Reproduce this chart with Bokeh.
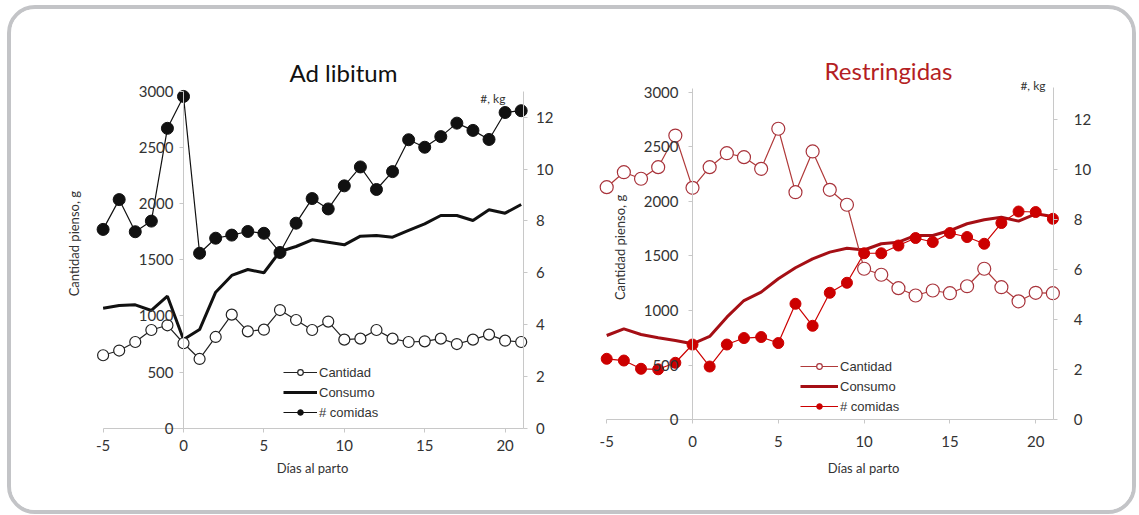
import math
from bokeh.plotting import figure
from bokeh.models import Range1d, LinearAxis, FixedTicker, Label
from bokeh.layouts import row
from bokeh.embed import file_html
from bokeh.resources import INLINE

# ---------------- data ----------------
dias = list(range(-5, 22))

ad_cantidad = [650, 692, 768, 875, 917, 757, 617, 813, 1012, 863, 878, 1053, 964, 875,
               950, 789, 798, 875, 798, 768, 774, 798, 750, 789, 834, 780, 768]
ad_consumo = [1069, 1093, 1099, 1049, 1176, 790, 879, 1212, 1361, 1414, 1385, 1575, 1619,
              1679, 1657, 1634, 1711, 1717, 1702, 1762, 1821, 1895, 1895, 1851, 1946, 1916, 1993]
ad_comidas = [7.67, 8.82, 7.58, 7.99, 11.57, 12.80, 6.75, 7.33, 7.45, 7.59, 7.52, 6.78, 7.91,
              8.86, 8.46, 9.35, 10.08, 9.21, 9.90, 11.13, 10.84, 11.25, 11.77, 11.49, 11.14,
              12.18, 12.25]

res_cantidad = [2130, 2267, 2207, 2313, 2603, 2124, 2313, 2441, 2405, 2298, 2665, 2084, 2457,
                2106, 1969, 1383, 1328, 1205, 1138, 1184, 1159, 1223, 1383, 1214, 1085, 1163, 1159]
res_consumo = [772, 833, 781, 751, 726, 696, 763, 940, 1092, 1169, 1291, 1392, 1474, 1535,
               1571, 1555, 1612, 1626, 1688, 1688, 1733, 1795, 1831, 1855, 1819, 1886, 1862]
res_comidas = [2.44, 2.37, 2.04, 2.02, 2.28, 3.01, 2.13, 3.01, 3.27, 3.31, 3.07, 4.64, 3.76,
               5.08, 5.48, 6.66, 6.66, 6.97, 7.27, 7.11, 7.47, 7.31, 7.04, 7.87, 8.33, 8.31, 8.04]

g_ticks = [0, 500, 1000, 1500, 2000, 2500, 3000]
n_ticks = [0, 2, 4, 6, 8, 10, 12]
x_ticks = [-5, 0, 5, 10, 15, 20]

TICK_FONT = "Lato"
AXIS_GRAY = "#c8c8c8"
TEXT = "#333333"
H = 501


def style_axis(ax, standoff):
    ax.axis_line_color = AXIS_GRAY
    ax.major_tick_line_color = AXIS_GRAY
    ax.major_tick_out = 4
    ax.major_tick_in = 0
    ax.minor_tick_line_color = None
    ax.major_label_standoff = standoff
    ax.major_label_text_font = TICK_FONT
    ax.major_label_text_font_size = "15px"
    ax.major_label_text_color = TEXT


def panel(title, title_color, cantidad, consumo, comidas, c_cant_line, c_cant_mark,
          c_cons, c_com, width, xr, gr, nr, x_end, g_top, n_top,
          x_std, r_std, l_std, title_pos, ylab_pos, kg_pos, xlab_pos,
          leg_loc, leg_gw, size_open, size_fill):
    p = figure(width=width, height=H, output_backend="svg", toolbar_location=None,
               x_range=Range1d(*xr), y_range=Range1d(*gr),
               min_border=0, outline_line_color=None,
               background_fill_color="white", border_fill_color="white")
    p.grid.visible = False

    # left axis (crosses at x = 0)
    ya = p.left[0]
    ya.ticker = FixedTicker(ticks=g_ticks)
    ya.fixed_location = 0
    ya.bounds = (0, g_top)
    style_axis(ya, l_std)

    # x axis (at y = 0)
    xa = p.below[0]
    xa.ticker = FixedTicker(ticks=x_ticks)
    xa.fixed_location = 0
    xa.bounds = (-5, x_end)
    xa.major_label_overrides = {-5: "-5"}
    style_axis(xa, x_std)

    # right axis
    p.extra_y_ranges = {"n": Range1d(*nr)}
    ra = LinearAxis(y_range_name="n", ticker=FixedTicker(ticks=n_ticks))
    ra.fixed_location = x_end
    ra.bounds = (0, n_top)
    style_axis(ra, r_std)
    p.add_layout(ra, "right")

    # series
    p.line(dias, consumo, line_color=c_cons, line_width=3, legend_label="Consumo")
    p.line(dias, cantidad, line_color=c_cant_line, line_width=1.2, legend_label="Cantidad")
    p.scatter(dias, cantidad, size=size_open, fill_color="white", line_color=c_cant_mark,
              line_width=1.2, legend_label="Cantidad")
    p.line(dias, comidas, y_range_name="n", line_color=c_com, line_width=1.2,
           legend_label="# comidas")
    p.scatter(dias, comidas, y_range_name="n", size=size_fill, fill_color=c_com,
              line_color=c_com, legend_label="# comidas")

    # texts
    p.add_layout(Label(x=title_pos[0], y=title_pos[1], text=title, text_align="center",
                       text_baseline="middle", text_font="Lato", text_font_size="24px",
                       text_color=title_color))
    p.add_layout(Label(x=ylab_pos[0], y=ylab_pos[1], angle=math.pi / 2,
                       text="Cantidad pienso, g", text_align="center",
                       text_baseline="middle", text_font="Lato",
                       text_font_size="13px", text_color=TEXT))
    p.add_layout(Label(x=kg_pos[0], y=kg_pos[1], y_range_name="n",
                       text="#, kg", text_align="right", text_baseline="middle",
                       text_font="Lato", text_font_size="12px", text_color=TEXT))
    p.add_layout(Label(x=xlab_pos[0], y=xlab_pos[1], text="Días al parto",
                       text_align="center", text_baseline="middle", text_font="Lato",
                       text_font_size="13px", text_color=TEXT))

    leg = p.legend[0]
    leg.items = [leg.items[1], leg.items[0], leg.items[2]]
    leg.location = leg_loc
    leg.label_text_font = "Liberation Sans"
    leg.label_text_font_size = "13px"
    leg.label_text_color = TEXT
    leg.glyph_width = leg_gw
    leg.glyph_height = 14
    leg.label_height = 20
    leg.label_standoff = 2
    leg.spacing = 0
    leg.padding = 0
    leg.margin = 0
    leg.background_fill_alpha = 0
    leg.border_line_color = None
    return p


p1 = panel("Ad libitum", "#111111", ad_cantidad, ad_consumo, ad_comidas,
           "#222222", "#222222", "#111111", "#111111",
           width=544, xr=(-10.697, 23.134), gr=(-733.3, 3730.8), nr=(-3.175, 16.154),
           x_end=21.12, g_top=3000, n_top=13,
           x_std=8, r_std=9, l_std=6,
           title_pos=(9.95, 3169), ylab_pos=(-6.84, 1644), kg_pos=(20.02, 12.72),
           xlab_pos=(8.02, -359), leg_loc=(272, 88), leg_gw=34,
           size_open=11, size_fill=12)

p2 = panel("Restringidas", "#b41e23", res_cantidad, res_consumo, res_comidas,
           "#b03a3a", "#a8333b", "#a50f15", "#cc0000",
           width=577, xr=(-7.984, 25.64), gr=(-830.6, 3757), nr=(-3.628, 16.41),
           x_end=21.05, g_top=3030, n_top=13.3,
           x_std=12, r_std=16, l_std=10,
           title_pos=(11.42, 3199), ylab_pos=(-4.2, 1578), kg_pos=(20.57, 13.37),
           xlab_pos=(9.97, -437), leg_loc=(245, 94), leg_gw=38,
           size_open=13, size_fill=11)

layout = row(p1, p2, styles={"border": "4px solid #c3c4c7", "border-radius": "28px",
                             "overflow": "hidden", "background-color": "white",
                             "margin": "5px 0 0 7px"})

open("out.html", "w").write(file_html(layout, INLINE))
